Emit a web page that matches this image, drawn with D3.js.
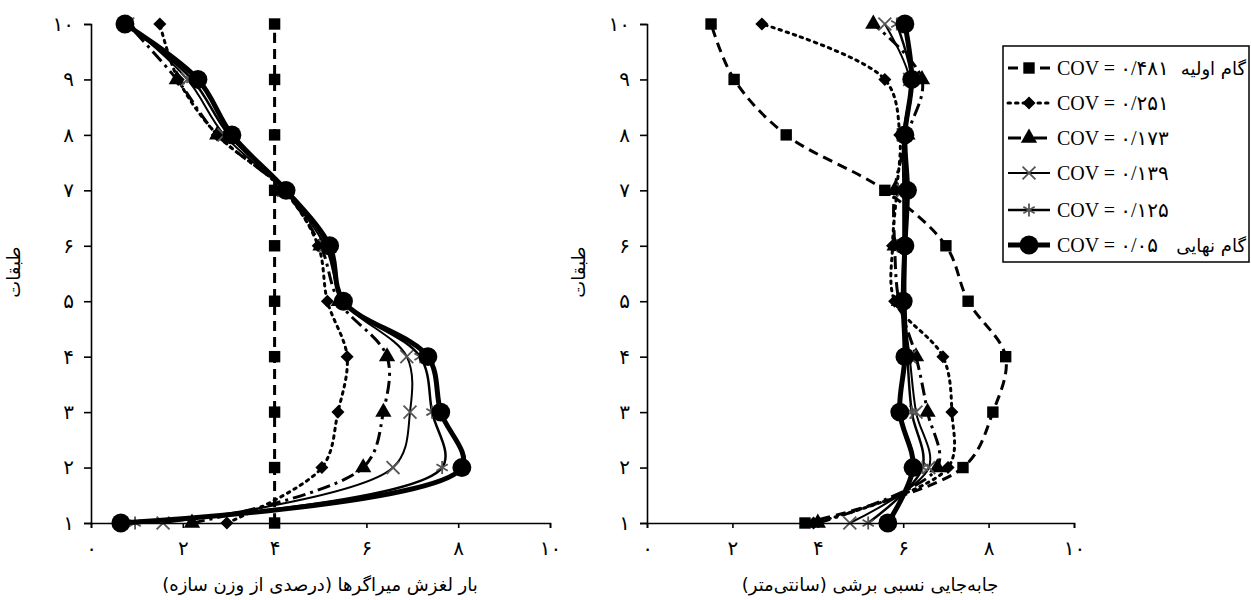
<!DOCTYPE html>
<html>
<head>
<meta charset="utf-8">
<script src="https://cdn.jsdelivr.net/npm/d3@7"></script>
<style>
  body { margin: 0; background: #fff; }
  text { font-family: "DejaVu Sans", sans-serif; fill: #000; }
</style>
</head>
<body>
<div id="cnv"></div>
<script>
var width = 1251, height = 600;

// floors (y axis)
var floors = [1, 2, 3, 4, 5, 6, 7, 8, 9, 10];
var xTicks = [0, 2, 4, 6, 8, 10];
var covLabels = ["۰/۴۸۱", "۰/۲۵۱", "۰/۱۷۳", "۰/۱۳۹", "۰/۱۲۵", "۰/۰۵"];
var stepLabels = ["گام اولیه", "", "", "", "", "گام نهایی"];

// left chart: slip load of dampers (% of structure weight), floor 1..10
var slip481 = [4, 4, 4, 4, 4, 4, 4, 4, 4, 4];
var slip251 = [2.96, 5.03, 5.38, 5.58, 5.15, 4.95, 4.2, 2.75, 1.9, 1.5];
var slip173 = [2.2, 5.93, 6.37, 6.45, 5.4, 5.0, 4.2, 2.75, 1.87, 0.8];
var slip139 = [1.57, 6.58, 6.95, 6.88, 5.5, 5.1, 4.2, 2.9, 2.1, 0.8];
var slip125 = [0.96, 7.65, 7.43, 7.17, 5.5, 5.15, 4.25, 3.0, 2.2, 0.75];
var slip05  = [0.65, 8.08, 7.62, 7.34, 5.5, 5.2, 4.25, 3.07, 2.33, 0.74];

// right chart: relative shear displacement (cm), floor 1..10
var disp481 = [3.7, 7.4, 8.1, 8.4, 7.52, 7.0, 5.57, 3.26, 2.04, 1.5];
var disp251 = [3.9, 7.05, 7.14, 6.93, 5.8, 5.75, 5.85, 5.92, 5.57, 2.69];
var disp173 = [4.0, 6.8, 6.57, 6.3, 5.9, 5.8, 5.8, 6.1, 6.44, 5.3];
var disp139 = [4.75, 6.6, 6.3, 6.15, 6.0, 6.0, 6.0, 6.0, 6.15, 5.57];
var disp125 = [5.18, 6.45, 6.2, 6.1, 6.05, 6.05, 6.05, 6.05, 6.2, 5.85];
var disp05  = [5.64, 6.23, 5.92, 6.04, 6.0, 6.04, 6.1, 6.04, 6.2, 6.04];

var styles = [
  {w: 3,   dash: "10,6",     sym: d3.symbolSquare,   size: 130, rot: 0,  fill: true},
  {w: 3,   dash: "2.5,5",    sym: d3.symbolSquare,   size: 85,  rot: 45, fill: true},
  {w: 3,   dash: "13,5,3,5", sym: d3.symbolTriangle, size: 115, rot: 0,  fill: true},
  {w: 2,   dash: null,       sym: d3.symbolTimes,    size: 110, rot: 0,  fill: false},
  {w: 2.5, dash: null,       sym: d3.symbolAsterisk, size: 120, rot: 0,  fill: false},
  {w: 5,   dash: null,       sym: d3.symbolCircle,   size: 280, rot: 0,  fill: true}
];

function fa(n) {
  return String(n).replace(/\d/g, function(d){ return "۰۱۲۳۴۵۶۷۸۹"[+d]; });
}

var svg = d3.select("#cnv").append("svg")
  .attr("width", width)
  .attr("height", height);

var yScale = d3.scaleLinear().domain([1, 10]).range([523, 24]);

function addMarker(sel, st, x, y) {
  sel.append("path")
    .attr("transform", "translate(" + x + "," + y + ") rotate(" + st.rot + ")")
    .attr("d", d3.symbol().type(st.sym).size(st.size))
    .attr("fill", st.fill ? "#000" : "none")
    .attr("stroke", st.fill ? "none" : "#555")
    .attr("stroke-width", 1.8);
}

function drawChart(x0, x1, series, title, yLabelX) {
  var xScale = d3.scaleLinear().domain([0, 10]).range([x0, x1]);

  var line = d3.line()
    .x(function(d){ return xScale(d[0]); })
    .y(function(d){ return yScale(d[1]); })
    .curve(d3.curveCatmullRom.alpha(0.5));

  series.forEach(function(vals, i) {
    var st = styles[i];
    var pts = vals.map(function(v, k){ return [v, floors[k]]; });
    svg.append("path")
      .datum(pts)
      .attr("d", line)
      .attr("fill", "none")
      .attr("stroke", "#000")
      .attr("stroke-width", st.w)
      .attr("stroke-dasharray", st.dash)
      .attr("stroke-linecap", i == 1 ? "round" : "butt");
    var g = svg.append("g");
    pts.forEach(function(d){ addMarker(g, st, xScale(d[0]), yScale(d[1])); });
  });

  var xAxis = svg.append("g")
    .attr("transform", "translate(0,523)")
    .call(d3.axisBottom(xScale).tickValues(xTicks).tickSize(5).tickPadding(13).tickFormat(fa));
  var yAxis = svg.append("g")
    .attr("transform", "translate(" + x0 + ",0)")
    .call(d3.axisLeft(yScale).tickValues(floors).tickSize(7).tickPadding(10).tickFormat(fa));
  [xAxis, yAxis].forEach(function(a){
    a.attr("font-size", 20).attr("font-family", "'DejaVu Sans', sans-serif");
    a.select(".domain").attr("stroke", "#000").attr("stroke-width", 1.6);
    a.selectAll(".tick line").attr("stroke", "#000").attr("stroke-width", 1.6);
  });

  //axis titles
  svg.append("text")
    .attr("text-anchor", "middle")
    .attr("x", title.x)
    .attr("y", 591)
    .style("font-size", "18px")
    .text(title.t);

  svg.append("text")
    .attr("text-anchor", "middle")
    .attr("transform", "translate(" + yLabelX + ",272) rotate(-90)")
    .style("font-size", "18px")
    .text("طبقات");
}

drawChart(91, 550, [slip481, slip251, slip173, slip139, slip125, slip05],
  {x: 320, t: "بار لغزش میراگرها (درصدی از وزن سازه)"}, 20);
drawChart(647, 1074, [disp481, disp251, disp173, disp139, disp125, disp05],
  {x: 870, t: "جابه‌جایی نسبی برشی (سانتی‌متر)"}, 585);

// legend
var lg = svg.append("g");
lg.append("rect")
  .attr("x", 1003).attr("y", 46)
  .attr("width", 246).attr("height", 216)
  .attr("fill", "#fff")
  .attr("stroke", "#000")
  .attr("stroke-width", 1.5);

var rowY = [68, 103, 138, 173, 210, 245];
styles.forEach(function(st, i) {
  var y = rowY[i];
  lg.append("line")
    .attr("x1", 1008).attr("x2", 1050)
    .attr("y1", y).attr("y2", y)
    .attr("stroke", "#000")
    .attr("stroke-width", st.w)
    .attr("stroke-dasharray", st.dash)
    .attr("stroke-linecap", i == 1 ? "round" : "butt");
  addMarker(lg, st, 1029, y);
  lg.append("text")
    .attr("x", 1057).attr("y", y + 7)
    .attr("direction", "ltr")
    .style("font-size", "20px")
    .style("font-family", "'Liberation Serif', 'DejaVu Sans', serif")
    .text("COV = " + covLabels[i]);
  if (stepLabels[i]) {
    lg.append("text")
      .attr("x", 1246).attr("y", y + 7)
      .attr("text-anchor", "end")
      .style("font-size", "18px")
      .text(stepLabels[i]);
  }
});
</script>
</body>
</html>
